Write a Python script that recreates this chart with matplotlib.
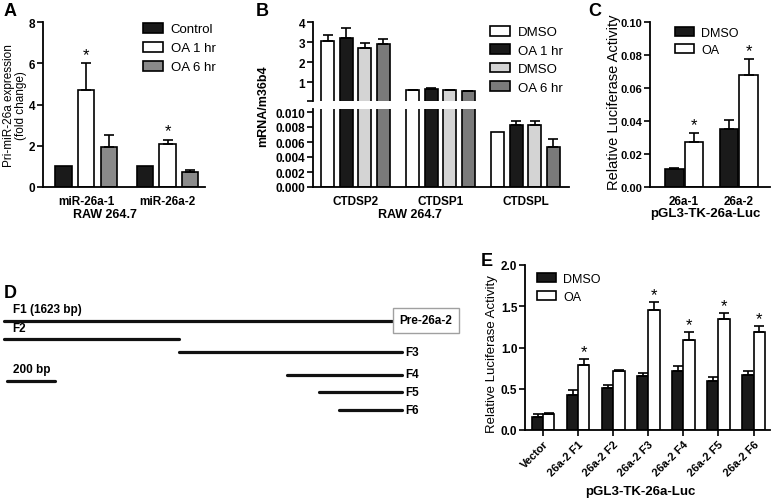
import matplotlib
matplotlib.use("Agg")
import matplotlib.pyplot as plt
from matplotlib.patches import Patch

W, H = 773, 502

# ---- panel A data ----
a_groups = ["miR-26a-1", "miR-26a-2"]
a_series = ["Control", "OA 1 hr", "OA 6 hr"]
a_means = [[1.0, 1.0], [4.7, 2.1], [1.95, 0.75]]
a_errs = [[0.0, 0.0], [1.3, 0.2], [0.57, 0.07]]
a_stars = [[False, False], [True, True], [False, False]]

# ---- panel B data ----
b_genes = ["CTDSP2", "CTDSP1", "CTDSPL"]
b_series = ["DMSO", "OA 1 hr", "DMSO", "OA 6 hr"]
b_means = [[3.05, 0.6, 0.0073], [3.2, 0.65, 0.0083], [2.7, 0.6, 0.0083], [2.9, 0.55, 0.0053]]
b_errs = [[0.28, 0.02, 0.0], [0.5, 0.03, 0.0005], [0.27, 0.02, 0.0005], [0.25, 0.02, 0.0011]]

# ---- panel C data ----
c_groups = ["26a-1", "26a-2"]
c_series = ["DMSO", "OA"]
c_means = [[0.011, 0.035], [0.027, 0.068]]
c_errs = [[0.0005, 0.0055], [0.0058, 0.0097]]
c_stars = [[False, False], [True, True]]

# ---- panel D data (bp) ----
d_names = ["F1", "F2", "F3", "F4", "F5", "F6"]
d_start = [0, 0, 732, 1184, 1318, 1401]
d_end = [1623, 732, 1665, 1665, 1665, 1665]
d_scale_bp = 200

# ---- panel E data ----
e_groups = ["Vector", "26a-2 F1", "26a-2 F2", "26a-2 F3", "26a-2 F4", "26a-2 F5", "26a-2 F6"]
e_series = ["DMSO", "OA"]
e_means = [[0.16, 0.42, 0.505, 0.65, 0.71, 0.59, 0.67],
           [0.19, 0.79, 0.71, 1.46, 1.095, 1.35, 1.19]]
e_errs = [[0.03, 0.07, 0.04, 0.04, 0.07, 0.05, 0.05],
          [0.02, 0.065, 0.02, 0.09, 0.095, 0.07, 0.07]]
e_stars = [[False] * 7, [False, True, False, True, True, True, True]]

plt.rcParams["font.family"] = ["Liberation Sans", "DejaVu Sans"]
fig = plt.figure(figsize=(W / 100, H / 100), dpi=100)


def rect(l, t, r, b):
    return [l / W, 1 - b / H, (r - l) / W, (b - t) / H]


def style_axes(ax, lw=1.3, size=8.5):
    for s in ["top", "right"]:
        ax.spines[s].set_visible(False)
    for s in ["left", "bottom"]:
        ax.spines[s].set_linewidth(lw)
    ax.tick_params(axis="y", direction="out", length=4, width=1.2, labelsize=size, pad=1.5)
    for t in ax.get_yticklabels():
        t.set_fontweight("bold")


def bars(ax, x, h, e, color, width, star=None, star_off=0.0, show=None):
    ax.bar(x, h, width=width, color=color, edgecolor="black", linewidth=1.2, zorder=2)
    if show is None:
        show = [True] * len(x)
    keep = [i for i in range(len(x)) if show[i] and e[i] > 0]
    if keep:
        ax.errorbar([x[i] for i in keep], [h[i] for i in keep],
                    yerr=[[0] * len(keep), [e[i] for i in keep]], fmt="none",
                    ecolor="black", elinewidth=1.2, capsize=3.5, capthick=1.2, zorder=3)
    if star is not None:
        for xi, hi, ei, si in zip(x, h, e, star):
            if si:
                ax.text(xi, hi + ei + star_off, "*", ha="center", va="bottom", fontsize=12)


def legend(ax, handles, labels, x, y, fs=9.5, spacing=0.45):
    ax.legend(handles, labels, loc="upper left", bbox_to_anchor=(x / W, 1 - y / H),
              bbox_transform=fig.transFigure, frameon=False, fontsize=fs,
              handlelength=1.5, handleheight=0.75, handletextpad=0.6,
              labelspacing=spacing, borderpad=0, borderaxespad=0)


def panel_letter(x, y, s):
    fig.text(x / W, 1 - y / H, s, fontsize=13, fontweight="bold", ha="left", va="center")


# ================= A =================
axA = fig.add_axes(rect(43, 23, 205, 188))
a_colors = ["#1a1a1a", "white", "#8a8a8a"]
gap_a = 3.6
for j in range(3):
    xs = [g * gap_a + j for g in range(len(a_groups))]
    bars(axA, xs, a_means[j], a_errs[j], a_colors[j], 0.72, a_stars[j], 0.05)
axA.set_xlim(-0.9, gap_a + 2 + 0.65)
axA.set_ylim(0, 8)
axA.set_yticks([0, 2, 4, 6, 8])
axA.set_xticks([g * gap_a + 1 for g in range(len(a_groups))])
axA.set_xticklabels(a_groups, fontsize=8.5, fontweight="bold")
axA.tick_params(axis="x", length=0, pad=6)
style_axes(axA)
legend(axA, [Patch(facecolor=c, edgecolor="black", linewidth=1.2) for c in a_colors],
       a_series, 143, 24, spacing=0.5)
fig.text(15 / W, 1 - 106 / H, "Pri-miR-26a expression\n(fold change)", rotation=90,
         ha="center", va="center", fontsize=8.5, linespacing=1.1)
fig.text(105 / W, 1 - 215 / H, "RAW 264.7", ha="center", va="center", fontsize=9,
         fontweight="bold")
panel_letter(4, 12, "A")

# ================= B =================
axBt = fig.add_axes(rect(313, 23, 569, 102))
axBb = fig.add_axes(rect(313, 110, 569, 188))
b_colors = ["white", "#1a1a1a", "#d4d4d4", "#7a7a7a"]
gap_b = 4.6
for ax, show in ((axBt, [True, True, False]), (axBb, [False, False, True])):
    for j in range(4):
        xs = [g * gap_b + j for g in range(len(b_genes))]
        bars(ax, xs, b_means[j], b_errs[j], b_colors[j], 0.7, show=show)
    ax.set_xlim(-0.8, 2 * gap_b + 3 + 0.85)
axBt.set_ylim(0.05, 4.0)
axBt.set_yticks([0.05, 1, 2, 3, 4])
axBt.set_yticklabels(["", "1", "2", "3", "4"])
axBt.set_xticks([])
style_axes(axBt)
axBt.spines["bottom"].set_visible(False)
axBb.set_ylim(0, 0.0104)
axBb.set_yticks([0, 0.002, 0.004, 0.006, 0.008, 0.010])
axBb.set_yticklabels(["0.000", "0.002", "0.004", "0.006", "0.008", "0.010"])
axBb.set_xticks([g * gap_b + 1.5 for g in range(len(b_genes))])
axBb.set_xticklabels(b_genes, fontsize=8.5, fontweight="bold")
axBb.tick_params(axis="x", length=0, pad=6)
style_axes(axBb)
legend(axBt, [Patch(facecolor=c, edgecolor="black", linewidth=1.2) for c in b_colors],
       b_series, 490, 27, spacing=0.45)
fig.text(263 / W, 1 - 106 / H, "mRNA/m36b4", rotation=90, ha="center", va="center",
         fontsize=9, fontweight="bold")
fig.text(410 / W, 1 - 215 / H, "RAW 264.7", ha="center", va="center", fontsize=9,
         fontweight="bold")
panel_letter(256, 12, "B")

# ================= C =================
axC = fig.add_axes(rect(650, 23, 770, 188))
c_colors = ["#1a1a1a", "white"]
gap_c = 2.77
for j in range(2):
    xs = [g * gap_c + j for g in range(len(c_groups))]
    bars(axC, xs, c_means[j], c_errs[j], c_colors[j], 0.95, c_stars[j], 0.0005)
axC.set_xlim(-1.23, gap_c + 1 + 1.08)
axC.set_ylim(0, 0.10)
axC.set_yticks([0, 0.02, 0.04, 0.06, 0.08, 0.10])
axC.set_yticklabels(["0.00", "0.02", "0.04", "0.06", "0.08", "0.10"])
axC.set_xticks([g * gap_c + 0.5 for g in range(len(c_groups))])
axC.set_xticklabels(c_groups, fontsize=8.5, fontweight="bold")
axC.tick_params(axis="x", length=0, pad=6)
style_axes(axC, size=8)
legend(axC, [Patch(facecolor=c, edgecolor="black", linewidth=1.2) for c in c_colors],
       c_series, 675, 28, fs=9, spacing=0.4)
fig.text(614 / W, 1 - 102 / H, "Relative Luciferase Activity", rotation=90,
         ha="center", va="center", fontsize=10.5)
fig.text(705 / W, 1 - 214 / H, "pGL3-TK-26a-Luc", ha="center", va="center",
         fontsize=9.5, fontweight="bold")
panel_letter(588, 12, "C")

# ================= D =================
axD = fig.add_axes(rect(0, 270, 470, 440))
axD.set_axis_off()
px_per_bp = 388 / 1623
axD.set_xlim(-4 / px_per_bp, 466 / px_per_bp)
axD.set_ylim(440, 270)
d_rows = [321.5, 340, 353, 375.5, 393, 411.5]
for name, s, e, y in zip(d_names, d_start, d_end, d_rows):
    axD.plot([s, e], [y, y], color="#111111", lw=2.3, solid_capstyle="round")
    if name in ("F1", "F2"):
        label = "F1 (1623 bp)" if name == "F1" else name
        axD.text(36, y - 5, label, ha="left", va="bottom", fontsize=8.5, fontweight="bold")
    else:
        axD.text(e + 12, y, name, ha="left", va="center", fontsize=8.5, fontweight="bold")
axD.text((426 - 4) / px_per_bp, d_rows[0], "Pre-26a-2", ha="center",
         va="center", fontsize=8.5, fontweight="bold",
         bbox=dict(boxstyle="square,pad=0.55", facecolor="white", edgecolor="#a0a0a0", lw=1))
axD.plot([12, 12 + d_scale_bp], [382, 382], color="#111111", lw=2.3, solid_capstyle="round")
axD.text(36, 376, "200 bp", ha="left", va="bottom", fontsize=8.5, fontweight="bold")
panel_letter(4, 293, "D")

# ================= E =================
axE = fig.add_axes(rect(525, 266, 770, 431))
e_colors = ["#1a1a1a", "white"]
for j in range(2):
    xs = [g + (j - 0.5) * 0.32 for g in range(len(e_groups))]
    bars(axE, xs, e_means[j], e_errs[j], e_colors[j], 0.32, e_stars[j], 0.0)
axE.set_xlim(-0.52, len(e_groups) - 1 + 0.47)
axE.set_ylim(0, 2.0)
axE.set_yticks([0, 0.5, 1.0, 1.5, 2.0])
axE.set_yticklabels(["0.0", "0.5", "1.0", "1.5", "2.0"])
axE.set_xticks(range(len(e_groups)))
axE.set_xticklabels(e_groups, fontsize=8, fontweight="bold", rotation=45, ha="right",
                    rotation_mode="anchor")
axE.tick_params(axis="x", direction="out", length=4, width=1.2, pad=2)
style_axes(axE)
legend(axE, [Patch(facecolor=c, edgecolor="black", linewidth=1.2) for c in e_colors],
       e_series, 537, 274, fs=9, spacing=0.45)
fig.text(492 / W, 1 - 354 / H, "Relative Luciferase Activity", rotation=90,
         ha="center", va="center", fontsize=9.5)
fig.text(640 / W, 1 - 492 / H, "pGL3-TK-26a-Luc", ha="center", va="center",
         fontsize=9.5, fontweight="bold")
panel_letter(481, 262, "E")

fig.savefig("out.png", dpi=100)
